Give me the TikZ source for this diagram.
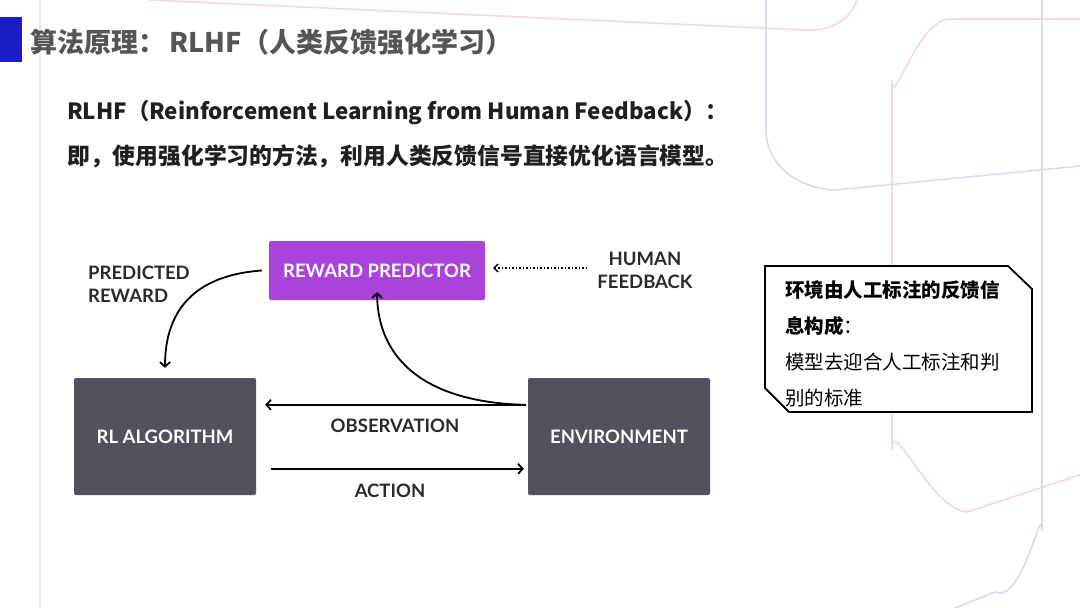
\documentclass[tikz,border=0pt]{standalone}
\usepackage{fontspec}
\usetikzlibrary{arrows.meta}
\newfontfamily\cjk{Noto Sans CJK SC}
\newfontfamily\lab{Lato}
\definecolor{titlegray}{HTML}{555555}
\definecolor{boxgray}{HTML}{52525F}
\definecolor{rpurple}{HTML}{A943DA}
\definecolor{barblue}{HTML}{1C1CC8}
\definecolor{lav}{HTML}{DCDCF0}
\definecolor{pinkl}{HTML}{F6D8DE}
\definecolor{labtxt}{HTML}{2A2A2A}
\tikzset{
  darkbox/.style={fill=boxgray, rounded corners=2pt, text=white, font=\lab\bfseries\fontsize{18.5}{21}\selectfont, inner sep=0pt},
  purplebox/.style={fill=rpurple, rounded corners=2pt, text=white, font=\lab\bfseries\fontsize{18.5}{21}\selectfont, inner sep=0pt},
  lbl/.style={text=labtxt, font=\lab\bfseries\fontsize{18.5}{23}\selectfont, inner sep=0pt, align=left},
  conn/.style={line width=1.8pt, -{Straight Barb[length=4.5pt,width=10pt,line width=1.8pt]}},
  deco/.style={line width=1.6pt}
}
\begin{document}
\begin{tikzpicture}[x=1pt,y=-1pt]
\useasboundingbox (0,0) rectangle (1080,608);
\fill[white] (0,0) rectangle (1080,608);
% background decoration
\draw[deco, lav!70] (40,0) -- (40,608);
\draw[deco, pinkl] (150,0) -- (805,30) to[out=-3,in=-110] (857,0);
\draw[deco, lav] (766,0) -- (766,130) to[out=-90,in=178] (835,190) -- (1080,166);
\draw[deco, lav] (1042,0) -- (1042,530) to[out=90,in=-25] (995,592) -- (955,608);
\draw[deco, pinkl] (1080,19) -- (950,19) to[out=180,in=-90] (892,80) -- (892,450) to[out=90,in=175] (967,512) -- (1080,475);
% title
\fill[barblue] (0,17) rectangle (22,62);
\node[anchor=west, inner sep=0pt, text=titlegray, font=\cjk\bfseries\fontsize{27}{30}\selectfont] (title) at (30,42) {算法原理：\,RLHF（人类反馈强化学习）};
\node[anchor=west, inner sep=0pt, text=black!88, font=\cjk\bfseries\fontsize{22.3}{26}\selectfont] (sub1) at (67,113) {RLHF（Reinforcement Learning from Human Feedback）：};
\node[anchor=west, inner sep=0pt, text=black!88, font=\cjk\bfseries\fontsize{22.8}{26}\selectfont] (sub2) at (67,156) {即，使用强化学习的方法，利用人类反馈信号直接优化语言模型。};
% diagram
\node[purplebox, minimum width=216pt, minimum height=59pt] (rp) at (377,270.5) {REWARD PREDICTOR};
\node[darkbox, minimum width=182pt, minimum height=117pt] (rl) at (165,436.5) {RL ALGORITHM};
\node[darkbox, minimum width=182pt, minimum height=117pt] (env) at (619,436.5) {ENVIRONMENT};
\node[lbl, anchor=west] (pr) at (88,284) {PREDICTED\\REWARD};
\node[lbl, align=center] (hf) at (645,270) {HUMAN\\FEEDBACK};
\node[lbl] (obs) at (395,426) {OBSERVATION};
\node[lbl] (act) at (390,491) {ACTION};
\coordinate (hfstart) at (587,268);
\draw[line width=1.5pt, dotted, -{Straight Barb[length=4pt,width=8pt,line width=1.4pt]}] (hfstart) -- ([xshift=8pt]rp.east |- hfstart);
\draw[conn] ([xshift=-7pt]rp.west) .. controls (185,276) and (165,320) .. ([yshift=10pt]rl.north);
\draw[conn] ([shift={(-2,27)}]env.north west) .. controls (440,403) and (378,370) .. ([yshift=8pt]rp.south);
\draw[conn] ([shift={(-2,27)}]env.north west) -- ([shift={(9,27)}]rl.north east);
\draw[conn] ([shift={(15,91)}]rl.north east) -- ([shift={(-4,91)}]env.north west);
% callout
\draw[line width=1.8pt, fill=white] (765,266) -- (1008,266) -- (1032,289) -- (1032,412) -- (789,412) -- (765,388) -- cycle;
\node[anchor=west, inner sep=0pt, font=\cjk\bfseries\fontsize{19.5}{22}\selectfont] (c1) at (785,290) {环境由人工标注的反馈信};
\node[anchor=west, inner sep=0pt, font=\cjk\fontsize{19.5}{22}\selectfont] (c2) at (785,326) {{\bfseries 息构成}：};
\node[anchor=west, inner sep=0pt, font=\cjk\fontsize{19.5}{22}\selectfont] (c3) at (785,362) {模型去迎合人工标注和判};
\node[anchor=west, inner sep=0pt, font=\cjk\fontsize{19.5}{22}\selectfont] (c4) at (785,398) {别的标准};
\end{tikzpicture}
\end{document}
